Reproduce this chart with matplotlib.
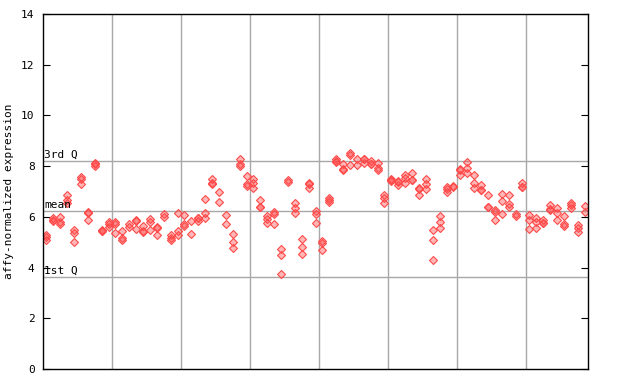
import numpy as np
import matplotlib
matplotlib.use('Agg')
import matplotlib.pyplot as plt

# expression values per sample, split by the vertical grid sections
grp1 = [[5.3, 5.2, 5.1], [5.87, 5.85, 5.97], [6.0, 5.8, 5.73], [6.88, 6.65, 6.56],
        [5.47, 5.38, 4.99], [7.57, 7.5, 7.31], [6.19, 6.17, 5.89], [8.12, 8.1, 8.0],
        [5.47, 5.45, 5.43], [5.8, 5.7, 5.6]]
grp2 = [[5.8, 5.7, 5.38], [5.43, 5.17, 5.08], [5.7, 5.6], [5.87, 5.85, 5.54],
        [5.65, 5.45, 5.4], [5.9, 5.8, 5.47], [5.6, 5.58, 5.3], [6.1, 6.0],
        [5.27, 5.18, 5.08], [6.15, 5.45, 5.3]]
grp3 = [[6.07, 5.7, 5.65], [5.83, 5.34], [5.96, 5.94, 5.83], [6.72, 6.17, 5.97],
        [7.5, 7.33, 7.31], [7.0, 6.6], [6.06, 5.73], [5.34, 4.99, 4.79],
        [8.29, 8.1, 8.0], [7.6, 7.31, 7.22]]
grp4 = [[7.5, 7.35, 7.15], [6.65, 6.39, 6.37], [6.02, 5.93, 5.76], [6.2, 6.1, 5.73],
        [4.75, 4.51, 3.73], [7.44, 7.37], [6.55, 6.36, 6.17], [5.14, 4.81, 4.55],
        [7.33, 7.31, 7.15], [6.22, 6.13, 5.76]]
grp5 = [[5.05, 4.97, 4.69], [6.76, 6.68, 6.59], [8.29, 8.19, 8.17], [8.07, 7.87, 7.85],
        [8.52, 8.43, 8.06], [8.29, 8.06], [8.29, 8.27, 8.12], [8.2, 8.1, 8.08],
        [8.12, 7.94, 7.83], [6.85, 6.76, 6.56]]
grp6 = [[7.5, 7.44, 7.42], [7.41, 7.39, 7.24], [7.64, 7.53, 7.35], [7.74, 7.47, 7.45],
        [7.15, 7.09, 6.85], [7.48, 7.28, 7.11], [5.47, 5.1, 4.29], [6.02, 5.8, 5.58],
        [7.18, 7.09, 6.98], [7.2, 7.18]]
grp7 = [[7.9, 7.83, 7.64], [8.16, 7.94, 7.73], [7.64, 7.34, 7.14], [7.24, 7.07, 7.05],
        [6.88, 6.39, 6.37], [6.29, 6.19, 5.89], [6.92, 6.61, 6.13], [6.88, 6.5, 6.39],
        [6.13, 6.04], [7.35, 7.18, 7.16]]
grp8 = [[6.06, 5.87, 5.54], [5.97, 5.8, 5.58], [5.87, 5.76, 5.74], [6.46, 6.3, 6.28],
        [6.36, 6.17, 5.89], [6.02, 5.73, 5.64], [6.55, 6.46, 6.36], [5.67, 5.58, 5.41],
        [6.42, 6.19]]

q1 = 3.61
mean_val = 6.22
q3 = 8.22

samples = grp1 + grp2 + grp3 + grp4 + grp5 + grp6 + grp7 + grp8
n = len(samples)

plt.rcParams['font.family'] = 'DejaVu Sans Mono'
plt.rcParams['font.size'] = 8

fig = plt.figure(figsize=(6.4, 3.84), dpi=100)
ax = fig.add_axes([43/640, 15/384, 545/640, 355/384])

red = '#ff4a4a'
for i, vals in enumerate(samples):
    ax.plot([i + 0.5]*len(vals), vals, linestyle='none', marker='D', markersize=3.8,
            mec=red, mfc=(1, 0.29, 0.29, 0.4), mew=0.8)

for v in [q1, mean_val, q3]:
    ax.axhline(v, color='#a8a8a8', lw=1, zorder=0)
for gx in range(10, n, 10):
    ax.axvline(gx, color='#a8a8a8', lw=1, zorder=0)

tr = ax.get_yaxis_transform()
ax.text(0.002, q3 + 0.05, '3rd Q', transform=tr, va='bottom', ha='left')
ax.text(0.002, mean_val + 0.05, 'mean', transform=tr, va='bottom', ha='left')
ax.text(0.002, q1 + 0.05, '1st Q', transform=tr, va='bottom', ha='left')

ax.set_xlim(0, n)
ax.set_ylim(0, 14)
ax.set_yticks(range(0, 15, 2))
ax.set_xticks([])
ax.tick_params(axis='y', direction='in', length=5, right=True, labelright=False, pad=6)
ax.set_ylabel('affy-normalized expression', labelpad=5)
for s in ax.spines.values():
    s.set_color('black')
    s.set_linewidth(1)

fig.savefig('out.png', dpi=100)
